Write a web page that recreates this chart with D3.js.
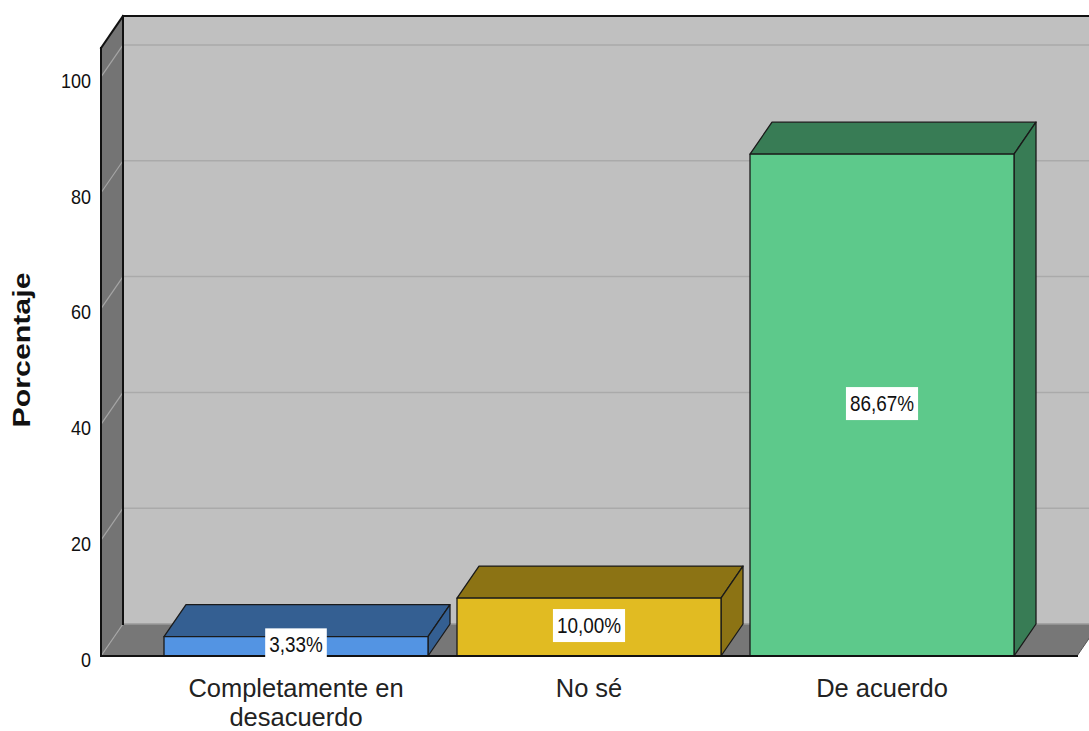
<!DOCTYPE html>
<html>
<head>
<meta charset="utf-8">
<script src="https://cdn.jsdelivr.net/npm/d3@7"></script>
<style>
  html, body { margin: 0; padding: 0; background: #ffffff; }
  svg { display: block; }
  text { font-family: "Liberation Sans", Arial, sans-serif; }
</style>
</head>
<body>
<svg id="chart" width="1089" height="731"></svg>
<script>
// ---- data ----
const categories = ["Completamente en desacuerdo", "No sé", "De acuerdo"];
const categoryLines = [["Completamente en", "desacuerdo"], ["No sé"], ["De acuerdo"]];
const percentages = [3.33, 10.00, 86.67];
const valueLabels = ["3,33%", "10,00%", "86,67%"];
const yTicks = [0, 20, 40, 60, 80, 100];
const yMax = 105;
const yTitle = "Porcentaje";

const frontColors = ["#5394e3", "#e1bb22", "#5dc98b"];
const darkColors  = ["#345f92", "#8c7314", "#387c55"];

// ---- layout ----
const svg = d3.select("#chart");
const xLeft = 101, xRight = 1077;
const yBase = 656, yTop = 48;
const dx = 22, dy = -32;

const y = d3.scaleLinear().domain([0, yMax]).range([yBase, yTop]);
const x = d3.scaleBand().domain(categories).range([xLeft, xRight])
  .paddingInner(0.099).paddingOuter(0.215);

const pts = a => a.map(p => p.join(",")).join(" ");

// back wall
svg.append("rect")
  .attr("x", xLeft + dx).attr("y", y(yMax) + dy)
  .attr("width", xRight - xLeft).attr("height", y(0) - y(yMax))
  .attr("fill", "#c0c0c0");

// back wall gridlines
svg.append("g").selectAll("line").data(yTicks.filter(t => t > 0)).join("line")
  .attr("x1", xLeft + dx).attr("x2", xRight + dx)
  .attr("y1", d => y(d) + dy).attr("y2", d => y(d) + dy)
  .attr("stroke", "#aaaaaa").attr("stroke-width", 1.5);

// left wall
svg.append("polygon")
  .attr("points", pts([[xLeft, y(0)], [xLeft, y(yMax)], [xLeft + dx, y(yMax) + dy], [xLeft + dx, y(0) + dy]]))
  .attr("fill", "#747474");

// floor
svg.append("polygon")
  .attr("points", pts([[xLeft, y(0)], [xRight, y(0)], [xRight + dx, y(0) + dy], [xLeft + dx, y(0) + dy]]))
  .attr("fill", "#777777");
svg.append("line")
  .attr("x1", xLeft + dx).attr("x2", xRight + dx)
  .attr("y1", y(0) + dy).attr("y2", y(0) + dy)
  .attr("stroke", "#9a9a9a").attr("stroke-width", 1.5);

// left wall gridlines (diagonals)
svg.append("g").selectAll("line").data(yTicks).join("line")
  .attr("x1", xLeft).attr("x2", xLeft + dx)
  .attr("y1", d => y(d)).attr("y2", d => y(d) + dy)
  .attr("stroke", "#a5a5a5").attr("stroke-width", 1.2);

// frame edges
const edge = (x1, y1, x2, y2) => svg.append("line")
  .attr("x1", x1).attr("y1", y1).attr("x2", x2).attr("y2", y2)
  .attr("stroke", "#111").attr("stroke-width", 2).attr("stroke-linecap", "square");
edge(xLeft, y(0), xLeft, y(yMax));
edge(xLeft, y(yMax), xLeft + dx, y(yMax) + dy);
edge(xLeft + dx, y(yMax) + dy, xRight + dx, y(yMax) + dy);
edge(xLeft + dx, y(yMax) + dy, xLeft + dx, y(0) + dy);
svg.append("line")
  .attr("x1", xRight).attr("y1", y(0)).attr("x2", xRight + dx).attr("y2", y(0) + dy)
  .attr("stroke", "#555").attr("stroke-width", 1);

// bars
const bars = svg.append("g");
categories.forEach((c, i) => {
  const v = percentages[i];
  const x0 = x(c), x1 = x(c) + x.bandwidth();
  const yt = y(v), yb = y(0);
  const g = bars.append("g")
    .attr("stroke", "#1a1a1a").attr("stroke-width", 1.3).attr("stroke-linejoin", "round");
  g.append("polygon") // top
    .attr("points", pts([[x0, yt], [x1, yt], [x1 + dx, yt + dy], [x0 + dx, yt + dy]]))
    .attr("fill", darkColors[i]);
  g.append("polygon") // side
    .attr("points", pts([[x1, yt], [x1 + dx, yt + dy], [x1 + dx, yb + dy], [x1, yb]]))
    .attr("fill", darkColors[i]);
  g.append("rect") // front
    .attr("x", x0).attr("y", yt).attr("width", x1 - x0).attr("height", yb - yt)
    .attr("fill", frontColors[i]);
});

// floor front edge on top
edge(xLeft, y(0), xRight, y(0));

// value labels
const labels = svg.append("g");
categories.forEach((c, i) => {
  const cx = x(c) + x.bandwidth() / 2;
  const cy = (y(percentages[i]) + y(0)) / 2 - 2;
  const g = labels.append("g").attr("transform", `translate(${cx},${cy})`);
  const r = g.append("rect").attr("fill", "#ffffff");
  const t = g.append("text")
    .attr("text-anchor", "middle").attr("font-size", 22).attr("fill", "#111")
    .attr("transform", "scale(0.86,1)")
    .attr("y", 8)
    .text(valueLabels[i]);
  const w = t.node().getComputedTextLength() * 0.86 + 8;
  r.attr("x", -w / 2).attr("y", -16).attr("width", w).attr("height", 33);
});

// y axis
const yAxis = svg.append("g")
  .attr("transform", `translate(${xLeft},0)`)
  .call(d3.axisLeft(y).tickValues(yTicks).tickSize(0).tickPadding(11).tickFormat(d3.format("d")));
yAxis.select(".domain").remove();
yAxis.selectAll("text")
  .attr("font-family", "'Liberation Sans', Arial, sans-serif")
  .attr("font-size", 20).attr("fill", "#111")
  .attr("dy", "0.52em")
  .attr("transform", "scale(0.9,1)");

// x axis labels
const xAxis = svg.append("g")
  .attr("transform", `translate(0,${yBase})`)
  .call(d3.axisBottom(x).tickSize(0).tickPadding(0));
xAxis.select(".domain").remove();
xAxis.selectAll(".tick text").each(function(d, i) {
  const t = d3.select(this);
  t.text(null).attr("y", 0).attr("dy", null)
    .attr("font-family", "'Liberation Sans', Arial, sans-serif")
    .attr("font-size", 26).attr("fill", "#222")
    .attr("transform", "scale(0.98,1)");
  categoryLines[i].forEach((line, k) => {
    t.append("tspan").attr("x", 0).attr("y", 41 + k * 29).text(line);
  });
});

// y title
svg.append("text")
  .attr("transform", "translate(30,350) rotate(-90)")
  .attr("text-anchor", "middle")
  .attr("font-size", 23).attr("font-weight", "bold").attr("fill", "#111")
  .attr("textLength", 155).attr("lengthAdjust", "spacingAndGlyphs")
  .text(yTitle);
</script>
</body>
</html>
